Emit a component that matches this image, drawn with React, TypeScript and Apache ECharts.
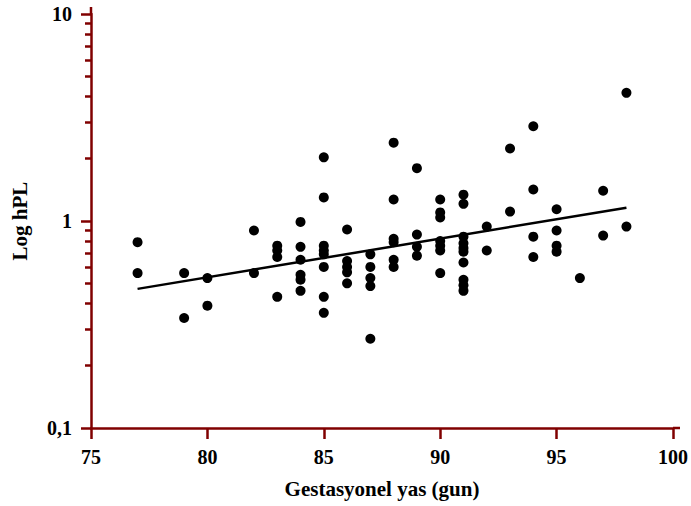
import React, { useEffect, useRef } from "react";
import * as echarts from "echarts";

// Gestational age (days) for each observation
const ageDays = [
  77, 77,
  79, 79,
  80, 80,
  82, 82,
  83, 83, 83, 83,
  84, 84, 84, 84, 84, 84,
  85, 85, 85, 85, 85, 85, 85, 85,
  86, 86, 86, 86, 86,
  87, 87, 87, 87, 87,
  88, 88, 88, 88, 88, 88,
  89, 89, 89, 89,
  90, 90, 90, 90, 90, 90, 90,
  91, 91, 91, 91, 91, 91, 91, 91, 91, 91,
  92, 92,
  93, 93,
  94, 94, 94, 94,
  95, 95, 95, 95,
  96,
  97, 97,
  98, 98,
];

// hPL values (log-scale axis)
const hplValues = [
  0.79, 0.56,
  0.56, 0.34,
  0.53, 0.39,
  0.9, 0.56,
  0.76, 0.72, 0.67, 0.43,
  0.99, 0.75, 0.65, 0.55, 0.52, 0.46,
  2.03, 1.3, 0.76, 0.72, 0.69, 0.6, 0.43, 0.36,
  0.91, 0.64, 0.6, 0.565, 0.5,
  0.69, 0.6, 0.53, 0.485, 0.27,
  2.39, 1.27, 0.82, 0.79, 0.65, 0.6,
  1.8, 0.86, 0.75, 0.68,
  1.27, 1.1, 1.04, 0.8, 0.76, 0.72, 0.56,
  1.34, 1.21, 0.84, 0.78, 0.74, 0.71, 0.63, 0.52, 0.49, 0.46,
  0.94, 0.72,
  2.24, 1.11,
  2.87, 1.42, 0.84, 0.67,
  1.14, 0.9, 0.76, 0.71,
  0.53,
  1.4, 0.85,
  4.16, 0.94,
];

// Regression line end points
const trendAge = [77, 98];
const trendHpl = [0.47, 1.16];

const xTickValues = [75, 80, 85, 90, 95, 100];
const yMajorTicks = [0.1, 1, 10];
const yMajorLabels = ["0,1", "1", "10"];
const yMinorTicks = [0.2, 0.3, 0.4, 0.5, 0.6, 0.7, 0.8, 0.9, 2, 3, 4, 5, 6, 7, 8, 9];

export default function App() {
  const ref = useRef<HTMLDivElement>(null);

  useEffect(() => {
    if (!ref.current) return;
    const chart = echarts.init(ref.current, null, { renderer: "svg" });
    const axisColor = "#800000";
    const font = {
      fontFamily: "Liberation Serif",
      fontWeight: "bold",
      fontSize: 20,
      color: "#000",
    };
    const axisLineStyle = { color: axisColor, width: 2.5 };

    chart.setOption({
      animation: false,
      textStyle: { fontFamily: "Liberation Serif", fontWeight: "bold" },
      grid: { left: 91, right: 15, top: 14, bottom: 78, containLabel: false },
      xAxis: {
        type: "value",
        min: xTickValues[0],
        max: xTickValues[xTickValues.length - 1],
        interval: 5,
        name: "Gestasyonel yas (gun)",
        nameLocation: "middle",
        nameGap: 50,
        nameTextStyle: { ...font, fontSize: 21 },
        axisLine: { show: true, onZero: false, lineStyle: axisLineStyle },
        axisTick: { show: true, length: 11, lineStyle: axisLineStyle },
        axisLabel: {
          margin: 19,
          ...font,
          formatter: (v: number) => "{b|" + String(v) + "}",
          rich: { b: { ...font } },
        },
        splitLine: { show: false },
      },
      yAxis: [
        {
          type: "log",
          logBase: 10,
          min: yMajorTicks[0],
          max: yMajorTicks[yMajorTicks.length - 1],
          name: "Log hPL",
          nameLocation: "middle",
          nameGap: 61,
          nameRotate: 90,
          nameTextStyle: { ...font, fontSize: 21 },
          axisLine: { show: true, onZero: false, lineStyle: axisLineStyle },
          axisTick: { show: true, length: 10, lineStyle: axisLineStyle },
          axisLabel: {
            margin: 19,
            ...font,
            formatter: (v: number) => {
              const i = yMajorTicks.findIndex(
                (t) => Math.abs(Math.log10(t) - Math.log10(v)) < 0.01
              );
              return i >= 0 ? yMajorLabels[i] : "";
            },
          },
          splitLine: { show: false },
          minorTick: { show: false },
        },
        {
          type: "value",
          min: -1,
          max: 1,
          position: "left",
          axisLine: { show: false, onZero: false },
          axisLabel: { show: false },
          splitLine: { show: false },
          axisTick: {
            show: true,
            length: 6,
            customValues: yMinorTicks.map((v) => Math.log10(v)),
            lineStyle: axisLineStyle,
          },
        },
      ],
      series: [
        {
          type: "scatter",
          xAxisIndex: 0,
          yAxisIndex: 0,
          symbol: "circle",
          symbolSize: 10,
          itemStyle: { color: "#000", opacity: 1 },
          data: ageDays.map((a, i) => [a, hplValues[i]]),
          z: 3,
        },
        {
          type: "line",
          xAxisIndex: 0,
          yAxisIndex: 0,
          showSymbol: false,
          symbol: "none",
          lineStyle: { color: "#000", width: 2.5 },
          data: trendAge.map((a, i) => [a, trendHpl[i]]),
          z: 4,
        },
      ],
    });

    const pTop = chart.convertToPixel({ seriesIndex: 0 }, [
      xTickValues[0],
      yMajorTicks[yMajorTicks.length - 1],
    ]) as number[];
    const pRight = chart.convertToPixel({ seriesIndex: 0 }, [
      xTickValues[xTickValues.length - 1],
      yMajorTicks[0],
    ]) as number[];
    if (pTop && pRight) {
      chart.setOption({
        graphic: [
          {
            type: "line",
            shape: { x1: pTop[0], y1: pTop[1], x2: pTop[0], y2: pTop[1] - 7 },
            style: { stroke: axisColor, lineWidth: 2.5 },
          },
          {
            type: "line",
            shape: { x1: pRight[0], y1: pRight[1], x2: pRight[0] + 7, y2: pRight[1] },
            style: { stroke: axisColor, lineWidth: 2.5 },
          },
        ],
      });
    }

    return () => chart.dispose();
  }, []);

  return (
    <div
      ref={ref}
      style={{ position: "absolute", left: 0, top: 0, width: 691, height: 506 }}
    />
  );
}
